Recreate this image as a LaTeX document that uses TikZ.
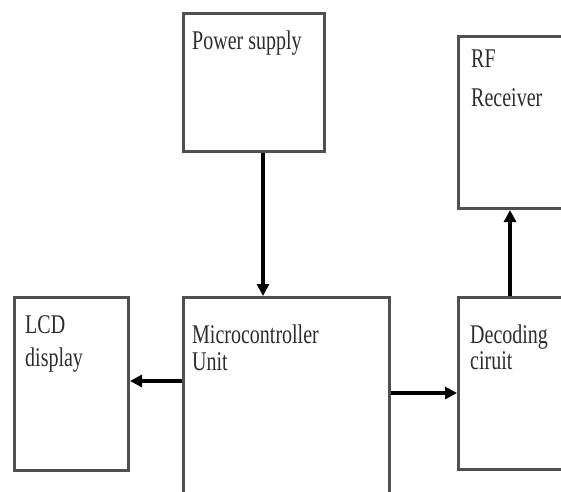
\documentclass[tikz,border=0pt]{standalone}
\usepackage{fontspec}
\setmainfont{Liberation Serif}
\usetikzlibrary{arrows.meta}
\definecolor{boxline}{RGB}{80,80,80}
\definecolor{txt}{RGB}{45,45,45}
\tikzset{
  blk/.style={draw=boxline, line width=3pt, rectangle, anchor=north west, inner sep=0pt, fill=white},
  lbl/.style={anchor=base west, inner sep=0pt, text=txt, font=\fontsize{20pt}{22pt}\selectfont},
  arr/.style={draw=black, line width=3.4pt, -{Triangle[length=12pt,width=12pt]}},
}
\newcommand{\tall}[1]{\scalebox{1}[1.35]{#1}}
\begin{document}
\begin{tikzpicture}[x=1pt,y=-1pt]
\useasboundingbox (0,0) rectangle (561,491);
\clip (0,0) rectangle (561,491);
\fill[white] (0,0) rectangle (561,491);
% boxes
\node[blk, minimum width=141pt, minimum height=138pt] (ps) at (182,12) {};
\node[blk, minimum width=120pt, minimum height=172pt] (rf) at (457,35) {};
\node[blk, minimum width=114pt, minimum height=173pt] (lcd) at (13,296) {};
\node[blk, minimum width=206pt, minimum height=220pt] (mcu) at (182,296) {};
\node[blk, minimum width=120pt, minimum height=172pt] (dec) at (457,296) {};
% labels
\node[lbl] (pst) at (192,49) {\tall{Power supply}};
\node[lbl] (rft1) at (471,67) {\tall{RF}};
\node[lbl] (rft2) at (471,106) {\tall{Receiver}};
\node[lbl] (lcdt1) at (25,333) {\tall{LCD}};
\node[lbl] (lcdt2) at (25,366) {\tall{display}};
\node[lbl] (mcut1) at (192,343) {\tall{Microcontroller}};
\node[lbl] (mcut2) at (192,370) {\tall{Unit}};
\node[lbl] (dect1) at (470,343) {\tall{Decoding}};
\node[lbl] (dect2) at (470,369) {\tall{ciruit}};
% connectors
\coordinate (psx) at (263,0);
\coordinate (decx) at (510,0);
\coordinate (lcdy) at (0,381);
\coordinate (decy) at (0,393);
\draw[arr] (ps.south -| psx) -- (mcu.north -| psx);
\draw[arr] (dec.north -| decx) -- (rf.south -| decx);
\draw[arr] (mcu.west |- lcdy) -- (lcd.east |- lcdy);
\draw[arr] (mcu.east |- decy) -- (dec.west |- decy);
\end{tikzpicture}
\end{document}
